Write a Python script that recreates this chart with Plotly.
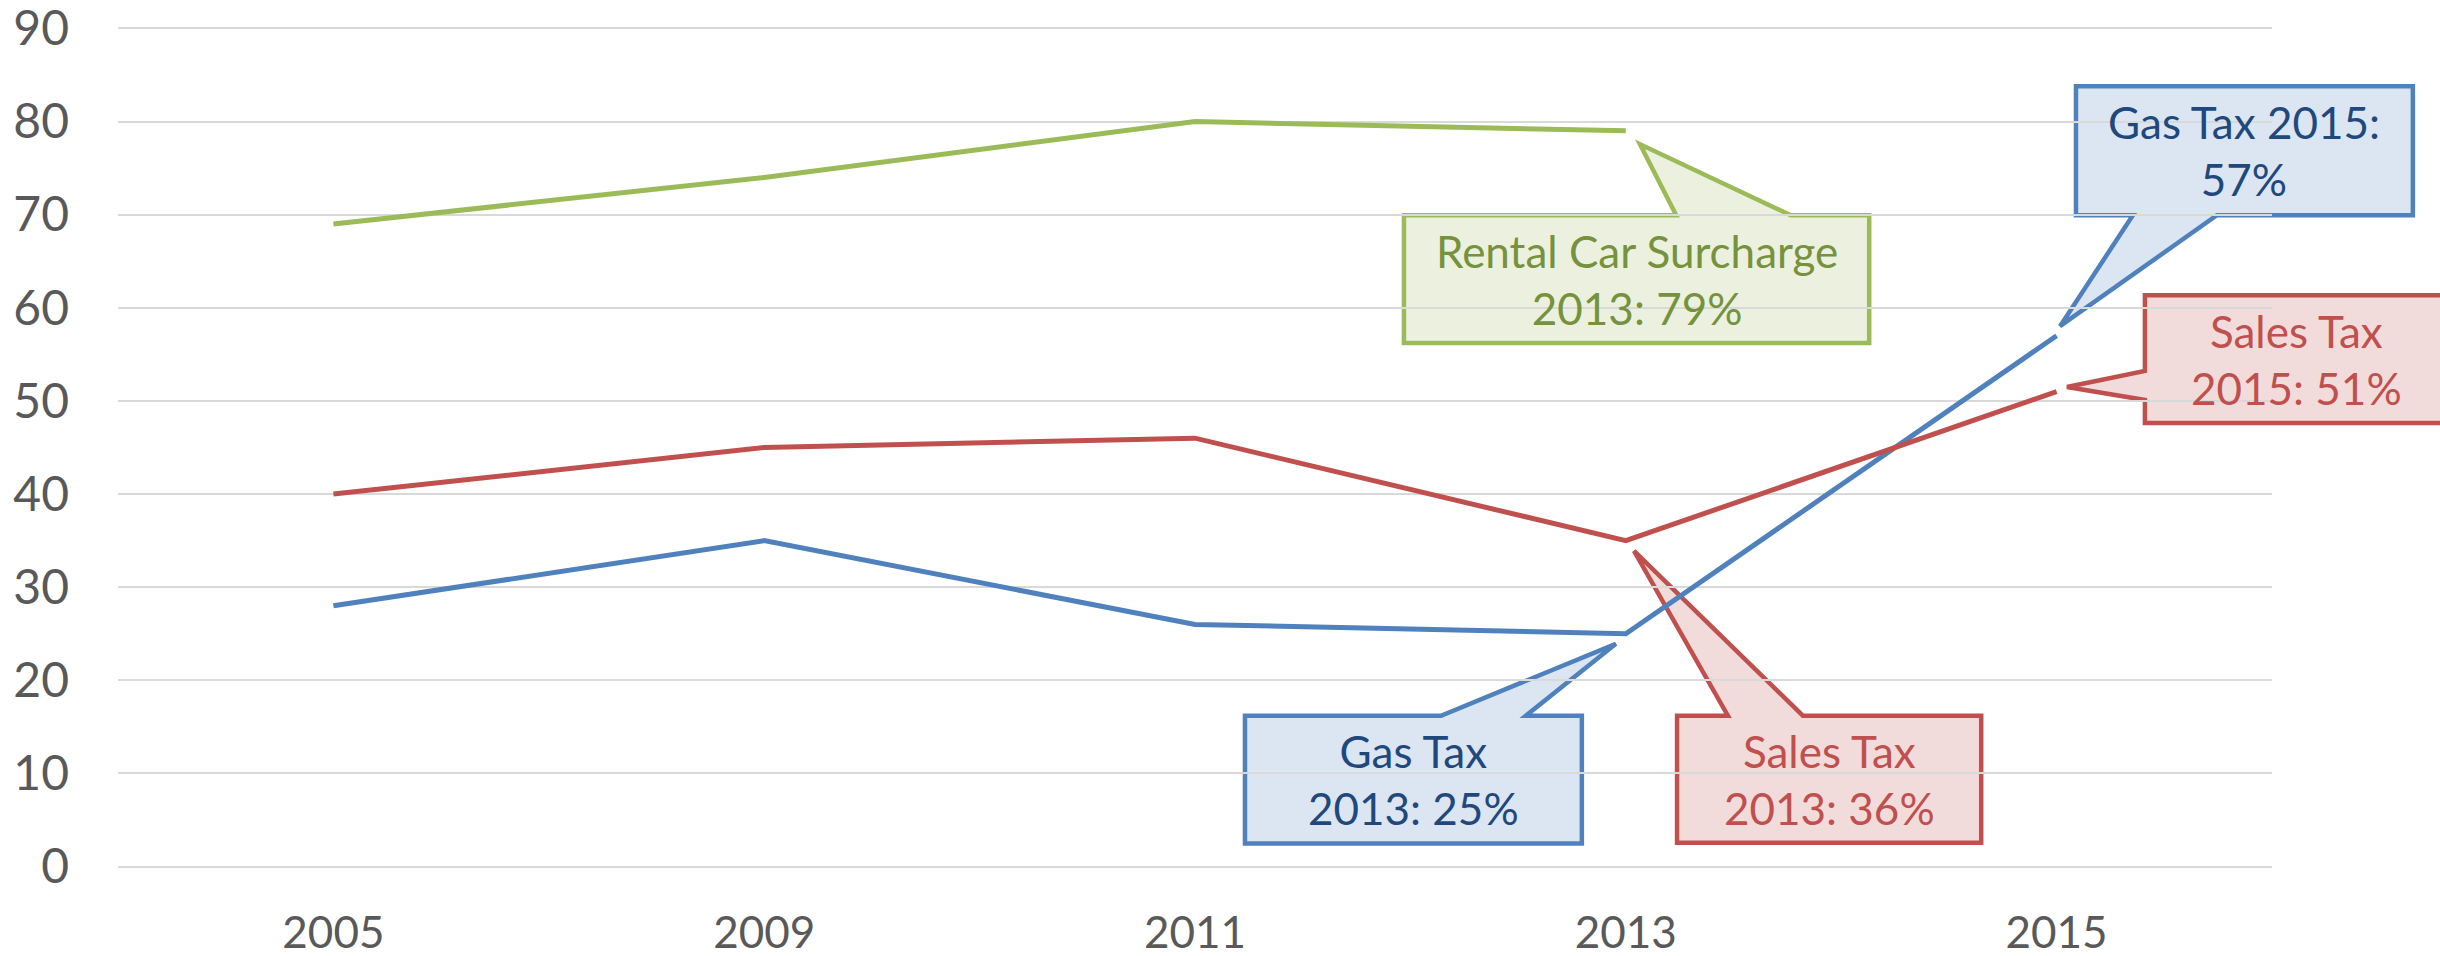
import plotly.graph_objects as go

years = ["2005", "2009", "2011", "2013", "2015"]
gas_tax = [28, 35, 26, 25, 57]
sales_tax = [40, 45, 46, 35, 51]
rental_car = [69, 74, 80, 79, None]
y_ticks = [0, 10, 20, 30, 40, 50, 60, 70, 80, 90]

BLUE, RED, GREEN = "#4F81BD", "#C0504D", "#9BBB59"
FONT = "Lato"
NCAT = len(years)
YMIN, YMAX = -0.15, 90.15


def px_(x):
    return (x + 0.5) / NCAT


def py_(y):
    return (y - YMIN) / (YMAX - YMIN)


fig = go.Figure()
for name, vals, col in [("Gas Tax", gas_tax, BLUE), ("Sales Tax", sales_tax, RED),
                        ("Rental Car Surcharge", rental_car, GREEN)]:
    fig.add_trace(go.Scatter(x=years, y=vals, mode="lines", name=name,
                             line=dict(color=col, width=5), connectgaps=False,
                             hoverinfo="x+y"))


def callout(box, tip, base, side, line, fill, text, tcolor, tx=None, ty=None):
    l, r, t, b = box
    if side == "top":
        pts = [(l, t), (base[0], t), tip, (base[1], t), (r, t), (r, b), (l, b)]
    elif side == "bottom":
        pts = [(l, t), (r, t), (r, b), (base[1], b), tip, (base[0], b), (l, b)]
    else:  # left
        pts = [(l, t), (r, t), (r, b), (l, b), (l, base[1]), tip, (l, base[0])]
    path = "M " + " L ".join(f"{px_(x):.5f},{py_(y):.5f}" for x, y in pts) + " Z"
    fig.add_shape(type="path", path=path, xref="paper", yref="paper",
                  line=dict(color=line, width=4.5), fillcolor=fill, layer="between")
    cx = tx if tx is not None else (l + r) / 2
    cy = ty if ty is not None else (t + b) / 2
    fig.add_annotation(x=px_(cx), y=py_(cy), xref="paper", yref="paper", text=text,
                       showarrow=False, font=dict(family=FONT, size=44, color=tcolor),
                       align="center", xanchor="center", yanchor="middle")


callout((2.485, 3.565, 69.94, 56.21), (3.033, 77.56), (3.117, 3.383), "top",
        GREEN, "#EBF1DE", "Rental Car Surcharge<br>2013: 79%", "#76923C")
callout((2.116, 2.898, 16.20, 2.47), (2.977, 23.92), (2.571, 2.768), "top",
        BLUE, "#DCE6F2", "Gas Tax<br>2013: 25%", "#1F497D")
callout((3.119, 3.825, 16.20, 2.57), (3.019, 33.90), (3.237, 3.411), "top",
        RED, "#F2DCDB", "Sales Tax<br>2013: 36%", RED)
callout((4.045, 4.827, 83.78, 69.94), (4.008, 58.03), (4.177, 4.372), "bottom",
        BLUE, "#DCE6F2", "Gas Tax 2015:<br>57%", "#1F497D")
callout((4.205, 4.911, 61.36, 47.63), (4.024, 51.49), (53.21, 50.10), "left",
        RED, "#F2DCDB", "Sales Tax<br>2015: 51%", RED)

fig.update_layout(
    width=2440, height=956,
    margin=dict(l=118, r=168, t=27, b=88),
    paper_bgcolor="white", plot_bgcolor="white",
    showlegend=False,
    font=dict(family=FONT, color="#595959"),
    xaxis=dict(type="category", range=[-0.5, NCAT - 0.5], showgrid=False,
               showline=False, zeroline=False, ticks="", automargin=False,
               tickfont=dict(family=FONT, size=44, color="#595959"),
               ticklabelstandoff=35, ticklabeloverflow="allow"),
    yaxis=dict(range=[YMIN, YMAX], tickvals=y_ticks, showgrid=True,
               gridcolor="#D9D9D9", gridwidth=2, zeroline=False, showline=False,
               ticks="", automargin=False, ticklabeloverflow="allow",
               tickfont=dict(family=FONT, size=48, color="#595959"),
               ticklabelstandoff=48),
)

fig.write_html("out.html", config={"displayModeBar": False},
               post_script="document.body.style.margin='0';document.body.style.overflow='hidden';")
